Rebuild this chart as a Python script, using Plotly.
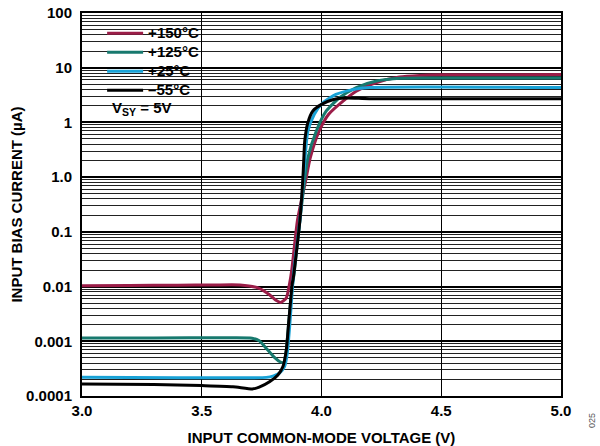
import plotly.graph_objects as go

# Input common-mode voltage (V) and input bias current (in axis units, log scale)
v_150 = [3.00, 3.20, 3.40, 3.55, 3.66, 3.74, 3.783, 3.81, 3.83, 3.853, 3.867, 3.876,
         3.90, 3.935, 3.953, 3.99, 4.03, 4.09, 4.145, 4.23, 4.325, 4.41, 4.50, 5.00]
i_150 = [0.0104, 0.0105, 0.0106, 0.0107, 0.0107, 0.0093, 0.0071, 0.0056, 0.0051, 0.0062, 0.0115, 0.0204,
         0.166, 0.91, 2.24, 6.9, 14.1, 24.5, 37.2, 53.7, 67.6, 72.4, 74.1, 75.0]

v_125 = [3.00, 3.30, 3.60, 3.71, 3.74, 3.77, 3.80, 3.825, 3.842, 3.853, 3.864, 3.878,
         3.886, 3.91, 3.943, 3.978, 4.02, 4.075, 4.145, 4.23, 4.33, 4.50, 5.00]
i_125 = [0.00115, 0.00115, 0.00116, 0.00114, 0.00102, 0.00074, 0.000525, 0.000427, 0.000407, 0.00069, 0.00245, 0.0100,
         0.0178, 0.166, 2.24, 6.9, 16.2, 28.2, 43.3, 57.1, 64.0, 64.6, 64.6]

v_25 = [3.00, 3.40, 3.77, 3.80, 3.825, 3.846, 3.857, 3.867, 3.878, 3.885, 3.91, 3.931,
        3.943, 3.97, 4.006, 4.06, 4.13, 4.20, 5.00]
i_25 = [0.000219, 0.000216, 0.000219, 0.000234, 0.000263, 0.000347, 0.000603, 0.00186, 0.0087, 0.0204, 0.166, 2.14,
        6.9, 14.1, 22.9, 32.4, 39.8, 43.3, 43.3]

v_m55 = [3.00, 3.30, 3.50, 3.63, 3.714, 3.74, 3.783, 3.818, 3.839, 3.853, 3.864, 3.878,
         3.882, 3.91, 3.922, 3.926, 3.93, 3.943, 3.964, 4.00, 4.05, 4.10, 4.20, 5.00]
i_m55 = [0.000166, 0.000162, 0.000155, 0.000148, 0.000135, 0.000145, 0.000182, 0.000243, 0.000347, 0.00069, 0.00245, 0.0115,
         0.0141, 0.166, 0.91, 2.09, 4.57, 9.9, 16.2, 21.4, 26.3, 27.9, 27.2, 27.2]

series_names = ["+150°C", "+125°C", "+25°C", "–55°C"]
series_colors = ["#9B1D48", "#17796E", "#19A2D6", "#000000"]

y_tickvals = [1e-4, 1e-3, 1e-2, 1e-1, 1, 10, 100, 1000]
y_ticktext = ["0.0001", "0.001", "0.01", "0.1", "1.0", "1", "10", "100"]
x_tickvals = [3.0, 3.5, 4.0, 4.5, 5.0]
x_ticktext = ["3.0", "3.5", "4.0", "4.5", "5.0"]

minor_vals = [m * 10.0 ** k for k in range(-4, 3) for m in range(2, 10)]

FONT = "Arial, Liberation Sans, Helvetica, sans-serif"

fig = go.Figure()
for xs, ys, name, col in zip([v_150, v_125, v_25, v_m55], [i_150, i_125, i_25, i_m55],
                             series_names, series_colors):
    fig.add_trace(go.Scatter(x=xs, y=ys, mode="lines",
                             name='<span style="font-size:15px">' + name + '</span>',
                             line=dict(color=col, width=3, shape="spline", smoothing=0.6)))

fig.update_layout(
    width=600, height=446,
    margin=dict(l=82, r=39, t=13, b=50, autoexpand=False),
    paper_bgcolor="white", plot_bgcolor="white",
    font=dict(family=FONT, size=15, color="black", weight="bold"),
    showlegend=True,
    legend=dict(x=0.042, y=0.985, xanchor="left", yanchor="top",
                bgcolor="rgba(0,0,0,0)", borderwidth=0,
                font=dict(family=FONT, size=12, color="black", weight="bold"),
                tracegroupgap=0, itemwidth=36),
)

fig.update_xaxes(
    range=[3.0, 5.0], tickvals=x_tickvals, ticktext=x_ticktext,
    showgrid=True, gridcolor="black", gridwidth=1,
    showline=True, linecolor="black", linewidth=2, mirror=True,
    ticks="", zeroline=False, automargin=False,
    tickfont=dict(family=FONT, size=15, color="black", weight="bold"),
    title=dict(text="INPUT COMMON-MODE VOLTAGE (V)", standoff=14,
               font=dict(family=FONT, size=15, color="black", weight="bold")),
)
fig.update_yaxes(
    type="log", range=[-4, 3], tickvals=y_tickvals, ticktext=y_ticktext,
    showgrid=True, gridcolor="black", gridwidth=2,
    minor=dict(tickvals=minor_vals, showgrid=True, gridcolor="#222222", gridwidth=1, ticks=""),
    showline=True, linecolor="black", linewidth=2, mirror=True,
    ticks="", zeroline=False, automargin=False, ticklabelstandoff=5,
    tickfont=dict(family=FONT, size=15, color="black", weight="bold"),
    title=dict(text="INPUT BIAS CURRENT (µA)", standoff=0,
               font=dict(family=FONT, size=15, color="black", weight="bold")),
)

# white box behind legend
fig.add_shape(type="rect", xref="paper", yref="paper",
              x0=0.042, x1=0.263, y0=0.716, y1=0.974,
              fillcolor="white", line=dict(width=0), layer="between")

fig.add_annotation(xref="paper", yref="paper", x=0.058, y=0.750,
                   xanchor="left", yanchor="middle", showarrow=False,
                   text="V<sub>SY</sub> = 5V",
                   font=dict(family=FONT, size=15, color="black", weight="bold"))

fig.add_annotation(xref="paper", yref="paper", x=1.0647, y=-0.063,
                   xanchor="center", yanchor="middle", showarrow=False,
                   text="025", textangle=-90,
                   font=dict(family=FONT, size=9, color="#555555", weight="normal"))

fig.write_html("out.html", config={"displayModeBar": False},
               post_script="document.body.style.margin='0px';")
